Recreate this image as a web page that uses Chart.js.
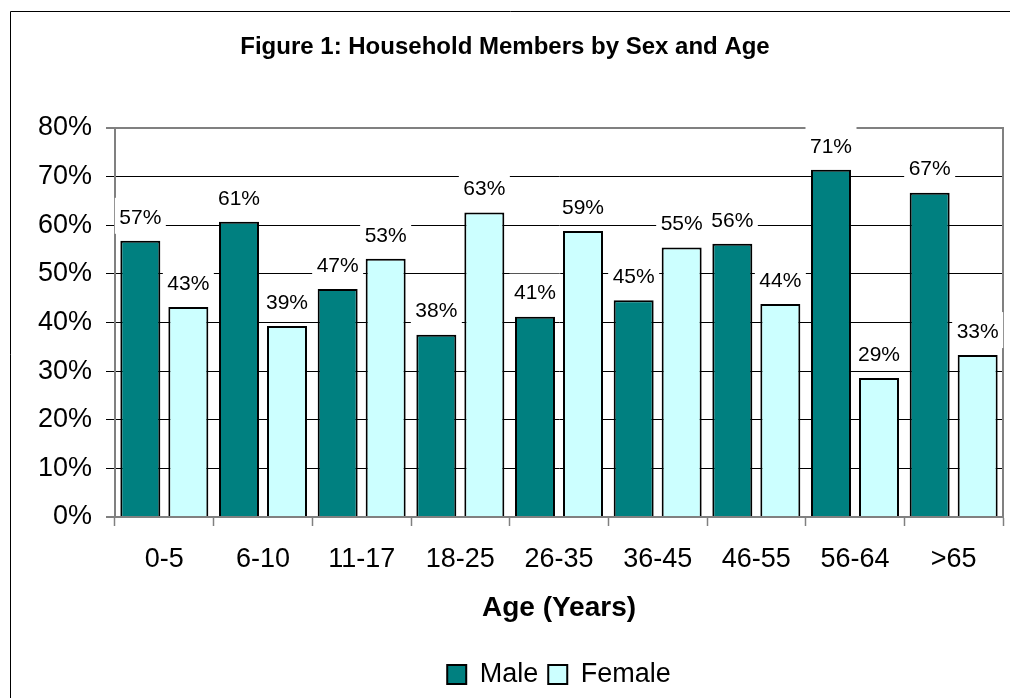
<!DOCTYPE html>
<html>
<head>
<meta charset="utf-8">
<title>Household Members by Sex and Age</title>
<script src="https://cdn.jsdelivr.net/npm/chart.js@4.4.1/dist/chart.umd.min.js"></script>
<style>
  html, body { margin: 0; padding: 0; background: #fff; overflow: hidden; }
  #wrap { position: relative; width: 1010px; height: 698px; }
</style>
</head>
<body>
<div id="wrap"><canvas id="householdChart"></canvas></div>
<script>
// Chart data (percent of household members in each age group)
const ageGroups = ['0-5', '6-10', '11-17', '18-25', '26-35', '36-45', '46-55', '56-64', '>65'];
const maleValues = [56.8, 60.7, 46.9, 37.5, 41.2, 44.6, 56.2, 71.4, 66.7];
const femaleValues = [43.2, 39.3, 53.1, 62.6, 58.8, 55.4, 43.8, 28.6, 33.3];
const yTicks = [0, 10, 20, 30, 40, 50, 60, 70, 80];

const FONT = 'Arial, "Liberation Sans", sans-serif';

// white-boxed value labels above each bar
const barLabels = {
    id: 'barLabels',
    afterDraw(chart) {
        const ctx = chart.ctx;
        ctx.save();
        ctx.font = '21px ' + FONT;
        ctx.textAlign = 'center';
        ctx.textBaseline = 'middle';
        chart.data.datasets.forEach((ds, i) => {
            chart.getDatasetMeta(i).data.forEach((bar, j) => {
                const txt = Math.round(ds.data[j]) + '%';
                const cy = bar.y - 25;
                ctx.fillStyle = '#fff';
                ctx.fillRect(bar.x - 25.5, cy - 18, 51, 36);
                ctx.fillStyle = '#000';
                ctx.fillText(txt, bar.x, cy + 2);
            });
        });
        ctx.restore();
    }
};

// plot border on the right + outer frame
const frame = {
    id: 'frame',
    beforeDatasetsDraw(chart) {
        const ctx = chart.ctx;
        const a = chart.chartArea;
        ctx.save();
        ctx.strokeStyle = '#808080';
        ctx.lineWidth = 2;
        ctx.beginPath();
        ctx.moveTo(a.left, a.top);
        ctx.lineTo(a.right, a.top);
        ctx.lineTo(a.right, a.bottom);
        ctx.stroke();
        ctx.restore();
    },
    afterDraw(chart) {
        const ctx = chart.ctx;
        ctx.save();
        ctx.strokeStyle = '#000';
        ctx.lineWidth = 1;
        ctx.beginPath();
        ctx.moveTo(10.5, chart.height);
        ctx.lineTo(10.5, 11.5);
        ctx.lineTo(chart.width, 11.5);
        ctx.stroke();
        ctx.restore();
    }
};

const ctx = document.getElementById('householdChart').getContext('2d');
new Chart(ctx, {
    type: 'bar',
    data: {
        labels: ageGroups,
        datasets: [
            {
                label: 'Male',
                data: maleValues,
                backgroundColor: '#008080',
                borderColor: '#000',
                borderWidth: 2
            },
            {
                label: 'Female',
                data: femaleValues,
                backgroundColor: '#CCFFFF',
                borderColor: '#000',
                borderWidth: 2
            }
        ]
    },
    options: {
        responsive: true,
        maintainAspectRatio: false,
        animation: false,
        categoryPercentage: 0.973,
        barPercentage: 0.833,
        layout: {
            padding: { left: 7, right: 7, top: 0, bottom: 0 }
        },
        plugins: {
            title: {
                display: true,
                text: 'Figure 1: Household Members by Sex and Age',
                color: '#000',
                font: { family: FONT, size: 24, weight: 'bold' },
                padding: { top: 33, bottom: 66.2 }
            },
            legend: {
                position: 'bottom',
                fullSize: false,
                labels: {
                    color: '#000',
                    font: { family: FONT, size: 27 },
                    boxWidth: 19,
                    boxHeight: 19,
                    padding: 10
                }
            },
            tooltip: { enabled: false }
        },
        scales: {
            x: {
                afterFit(scale) { scale.height = 134; },
                grid: {
                    drawOnChartArea: false,
                    tickLength: 9,
                    tickColor: '#808080',
                    tickWidth: 1.5
                },
                border: { color: '#808080', width: 2 },
                ticks: {
                    color: '#000',
                    font: { family: FONT, size: 27 },
                    padding: 17
                },
                title: {
                    display: true,
                    text: 'Age (Years)',
                    color: '#000',
                    font: { family: FONT, size: 28, weight: 'bold' },
                    padding: { top: 17.5, bottom: 26.2 }
                }
            },
            y: {
                min: 0,
                max: 80,
                afterFit(scale) { scale.width = 108; },
                afterBuildTicks(scale) {
                    scale.ticks = yTicks.map(v => ({ value: v }));
                },
                grid: {
                    color: c => (c.tick && (c.tick.value === 80 || c.tick.value === 0)) ? '#808080' : '#000',
                    lineWidth: c => (c.tick && (c.tick.value === 80 || c.tick.value === 0)) ? 2 : 1,
                    tickLength: 9,
                    tickColor: '#000',
                    tickWidth: 1
                },
                border: { color: '#808080', width: 2 },
                ticks: {
                    color: '#000',
                    font: { family: FONT, size: 27 },
                    padding: 14,
                    callback: v => v + '%'
                }
            }
        }
    },
    plugins: [frame, barLabels]
});
</script>
</body>
</html>
